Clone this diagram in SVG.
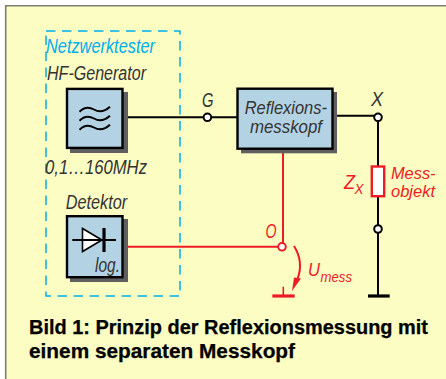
<svg xmlns="http://www.w3.org/2000/svg" width="446" height="379" viewBox="0 0 446 379">
<style>
text{font-family:"Liberation Sans",Arial,sans-serif}
.l{font-style:italic;font-size:19.5px;fill:#333}
.r{font-style:italic;font-size:19.5px;fill:#ed1c24}
.t{font-size:18px}
.b{font-weight:bold;font-size:19.5px;fill:#000;stroke:#000;stroke-width:.25}
.box{fill:#b3d3e5;stroke:#000;stroke-width:2.4}
.sh{fill:#5f5f5f}
.w{fill:none;stroke:#000;stroke-width:2}
.rw{fill:none;stroke:#ed1c24;stroke-width:2}
.n{fill:#fff;stroke:#000;stroke-width:2}
</style>
<rect width="446" height="379" fill="#fff"/>
<rect x="5.5" y="5.5" width="441" height="374" fill="#fbfdc3"/>
<path d="M5.7 379V5.7H446" fill="none" stroke="#7d7d72" stroke-width="1.6"/>
<g id="connectors">
<path class="w" d="M123 117.3H237"/>
<path class="w" d="M333 115.8H378V166M378 197V296"/>
<path class="rw" d="M124 246.8H282M283 150V246.8"/>
<path d="M368 296H389.7" stroke="#000" stroke-width="3.2" fill="none"/>
<path d="M272.3 296H294.7" stroke="#ed1c24" stroke-width="3.2" fill="none"/>
<path d="M283.3 286.7V296" stroke="#ed1c24" stroke-width="1.6" fill="none"/>
<path class="rw" d="M294 246Q304 262 297.5 279"/>
<path d="M292 291L294 277.5L301 278.5Z" fill="#ed1c24"/>
</g>
<g id="netzwerktester">
<rect x="46" y="31" width="134" height="265" fill="none" stroke="#00aeef" stroke-width="1.5" stroke-dasharray="9.5 6.5"/>
<text x="46" y="52.7" class="l" style="fill:#00aeef" textLength="109" lengthAdjust="spacingAndGlyphs">Netzwerktester</text>
</g>
<g id="hf-generator">
<text x="47" y="80" class="l" textLength="99" lengthAdjust="spacingAndGlyphs">HF-Generator</text>
<rect x="70" y="92" width="58" height="61" class="sh"/>
<rect x="67" y="88.9" width="55.5" height="59" class="box"/>
<path class="w" d="M79.5 111.7Q86 105 94 109.5T110 106.7M79.5 120.7Q86 114 94 118.5T110 115.7M79.5 129.7Q86 123 94 127.5T110 124.7"/>
<text x="45" y="174" class="l" textLength="102" lengthAdjust="spacingAndGlyphs">0,1…160MHz</text>
</g>
<g id="detektor">
<text x="65.7" y="209" class="l" textLength="61.5" lengthAdjust="spacingAndGlyphs">Detektor</text>
<rect x="70" y="219" width="58" height="63" class="sh"/>
<rect x="67" y="216.2" width="55.5" height="61" class="box"/>
<path d="M82.5 228.5V251.500L102 240Z" fill="#fff" stroke="#000" stroke-width="1.6"/>
<path class="w" d="M72.3 240H116"/>
<path d="M104 228V252" stroke="#000" stroke-width="3.2"/>
<text x="95" y="271.7" class="l" textLength="25" lengthAdjust="spacingAndGlyphs">log.</text>
</g>
<g id="reflexionsmesskopf">
<rect x="241" y="92" width="96" height="61.3" class="sh"/>
<rect x="237.5" y="88.7" width="95" height="60" class="box"/>
<text x="244.7" y="114" class="l t" textLength="82.3" lengthAdjust="spacingAndGlyphs">Reflexions-</text>
<text x="250" y="132.7" class="l t" textLength="72" lengthAdjust="spacingAndGlyphs">messkopf</text>
</g>
<g id="node-g"><circle cx="207.4" cy="117.3" r="3.8" class="n"/><text x="202" y="106.7" class="l" textLength="11.5" lengthAdjust="spacingAndGlyphs">G</text></g>
<g id="node-x"><circle cx="378" cy="117.3" r="3.8" class="n"/><text x="371" y="105.7" class="l" textLength="12" lengthAdjust="spacingAndGlyphs">X</text></g>
<g id="node-o"><circle cx="282" cy="246.8" r="3.8" class="n" style="stroke:#ed1c24"/><text x="265.5" y="238" class="r" textLength="11" lengthAdjust="spacingAndGlyphs">O</text></g>
<g id="node-b"><circle cx="378" cy="229" r="3.8" class="n"/></g>
<g id="messobjekt">
<rect x="371.8" y="166.5" width="12.4" height="29.7" fill="#fff" stroke="#ed1c24" stroke-width="2.4"/>
<text x="344" y="189" class="r" textLength="11" lengthAdjust="spacingAndGlyphs">Z</text>
<text x="354.5" y="194" class="r" style="font-size:15px" textLength="9" lengthAdjust="spacingAndGlyphs">X</text>
<text x="391" y="178.5" class="r" style="font-size:17px" textLength="44.5" lengthAdjust="spacingAndGlyphs">Mess-</text>
<text x="391" y="197" class="r" style="font-size:17px" textLength="44" lengthAdjust="spacingAndGlyphs">objekt</text>
</g>
<g id="umess">
<text x="308" y="276" class="r t" textLength="12" lengthAdjust="spacingAndGlyphs">U</text>
<text x="320.500" y="282" class="r" style="font-size:15px" textLength="31.5" lengthAdjust="spacingAndGlyphs">mess</text>
</g>
<g id="caption">
<text x="29" y="334" class="b" textLength="399" lengthAdjust="spacingAndGlyphs">Bild 1: Prinzip der Reflexionsmessung mit</text>
<text x="29" y="358" class="b" textLength="266" lengthAdjust="spacingAndGlyphs">einem separaten Messkopf</text>
</g>
</svg>
